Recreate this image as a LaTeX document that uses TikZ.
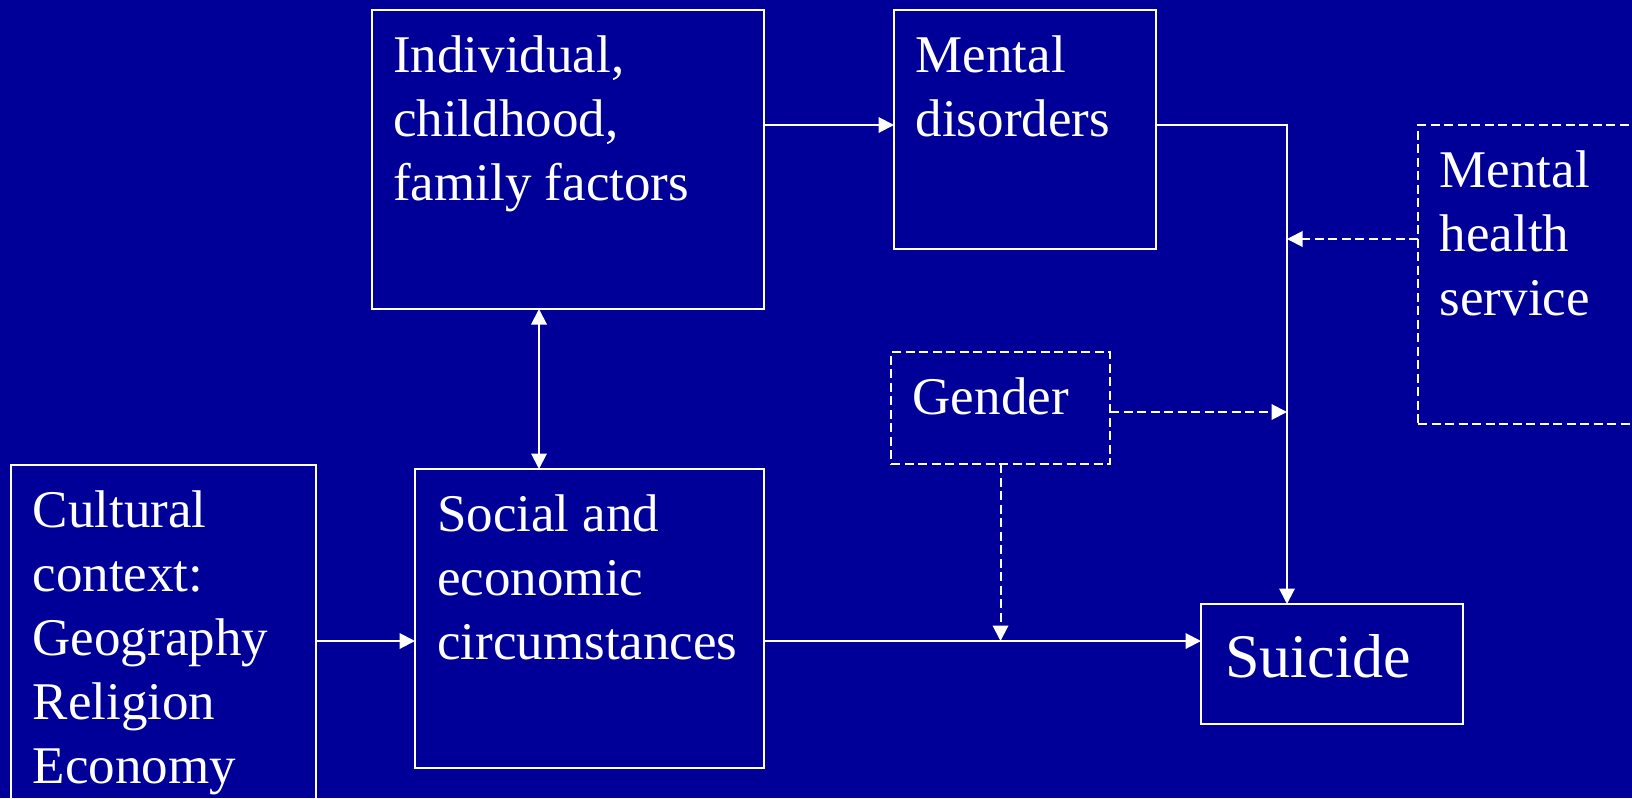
\documentclass[tikz,border=0pt]{standalone}
\usepackage{fontspec}
\setmainfont{Liberation Serif}
\usetikzlibrary{arrows.meta}
\definecolor{slideblue}{RGB}{0,0,153}

\begin{document}
\begin{tikzpicture}[x=1pt, y=-1pt,
  box/.style={draw=white, line width=2pt, anchor=north west, inner sep=0pt, outer sep=0pt},
  dashbox/.style={box, dash pattern=on 9pt off 4.5pt},
  txt/.style={text=white, anchor=north west, inner sep=0pt, align=left, font=\fontsize{53}{64}\selectfont},
  arr/.style={draw=white, line width=2pt, -{Triangle[length=15.5pt,width=15.5pt]}},
  dasharr/.style={arr, dash pattern=on 9pt off 4.5pt}]
\useasboundingbox (0,0) rectangle (1632,798);
\fill[slideblue] (0,0) rectangle (1632,798);
\clip (0,0) rectangle (1632,798);

% boxes
\node[box, minimum width=392pt, minimum height=299pt] (indiv) at (372,10) {};
\node[box, minimum width=262pt, minimum height=239pt] (mental) at (894,10) {};
\node[dashbox, minimum width=300pt, minimum height=299pt] (service) at (1418,125) {};
\node[dashbox, minimum width=219pt, minimum height=112pt] (gender) at (891,352) {};
\node[box, minimum width=305pt, minimum height=400pt] (culture) at (11,465) {};
\node[box, minimum width=349pt, minimum height=299pt] (social) at (415,469) {};
\node[box, minimum width=262pt, minimum height=120pt] (suicide) at (1201,604) {};

% texts
\node[txt] (indivtxt) at (393,36) {Individual,\\childhood,\\family factors};
\node[txt] (mentaltxt) at (915.5,36) {Mental\\disorders};
\node[txt] (servicetxt) at (1439.5,151) {Mental\\health\\service};
\node[txt] (gendertxt) at (912.5,378) {Gender};
\node[txt] (culturetxt) at (32.5,491) {Cultural\\context:\\Geography\\Religion\\Economy};
\node[txt] (socialtxt) at (437,495) {Social and\\economic\\circumstances};
\node[txt, font=\fontsize{62}{74}\selectfont] (suicidetxt) at (1225,634) {Suicide};

% rows and columns of the connectors
\coordinate (toprow) at (0,125);
\coordinate (svcrow) at (0,239);
\coordinate (genrow) at (0,412);
\coordinate (flow) at (0,641);
\coordinate (trunk) at (1287,0);
\coordinate (link) at (539,0);

\draw[arr] (indiv.east |- toprow) -- (mental.west |- toprow);
\draw[arr] (mental.east |- toprow) -| (trunk |- suicide.north);
\draw[dasharr] (service.west |- svcrow) -- (trunk |- svcrow);
\draw[dasharr] (gender.east |- genrow) -- (trunk |- genrow);
\draw[dasharr] (gender.south) -- (gender.south |- flow);
\draw[arr, {Triangle[length=15.5pt,width=15.5pt]}-{Triangle[length=15.5pt,width=15.5pt]}] (indiv.south -| link) -- (social.north -| link);
\draw[arr] (culture.east |- flow) -- (social.west |- flow);
\draw[arr] (social.east |- flow) -- (suicide.west |- flow);
\end{tikzpicture}
\end{document}
